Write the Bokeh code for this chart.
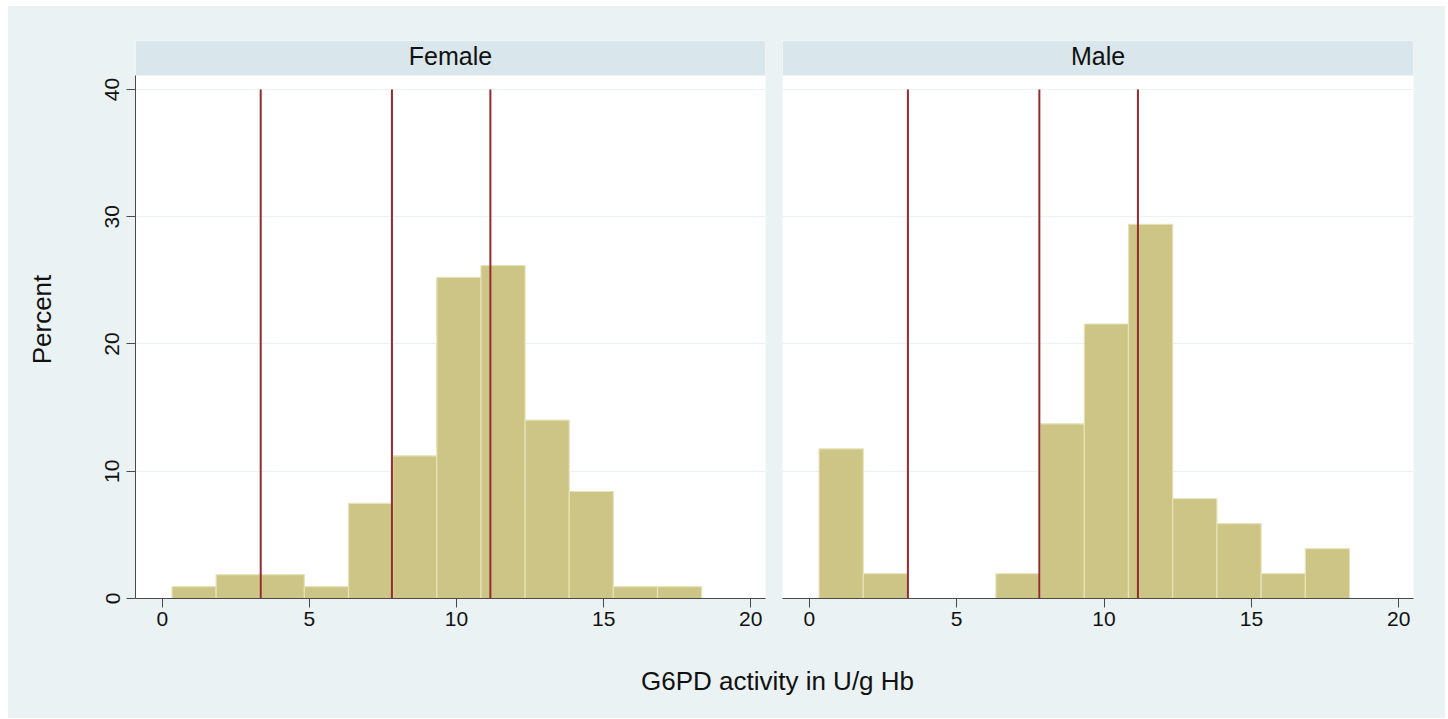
from bokeh.plotting import figure
from bokeh.layouts import row, column
from bokeh.models import ColumnDataSource, FixedTicker, BoxAnnotation, Label, Range1d, Spacer
from bokeh.embed import file_html
from bokeh.resources import INLINE

# ---- data ----
panels = ["Female", "Male"]
bin_edges = [0.33, 1.83, 3.33, 4.83, 6.33, 7.83, 9.33, 10.83, 12.33, 13.83, 15.33, 16.83, 18.33]
female_pct = [0.93, 1.87, 1.87, 0.93, 7.48, 11.21, 25.23, 26.17, 14.02, 8.41, 0.93, 0.93]
male_pct = [11.76, 1.96, 0.0, 0.0, 1.96, 13.73, 21.57, 29.41, 7.84, 5.88, 1.96, 3.92]
ref_lines = [3.345, 7.805, 11.15]
x_ticks = [0, 5, 10, 15, 20]
y_ticks = [0, 10, 20, 30, 40]
x_label = "G6PD activity in U/g Hb"
y_label = "Percent"

# ---- style ----
BG = "#EAF2F3"
HEADER = "#D9E6EB"
BAR_FILL = "#CCC586"
BAR_LINE = "#E6E2B9"
RED = "#952B2E"
AXIS = "#4A4A4A"
FONT = "Liberation Sans"

X_RANGE = (-0.91, 20.5)
Y_TOP = 43.85
PLOT_TOP = 41.1


def make_panel(title, pct, show_y, frame_w, bl, br):
    p = figure(frame_width=frame_w, frame_height=558, output_backend="svg",
               toolbar_location=None, x_range=Range1d(*X_RANGE),
               y_range=Range1d(0, Y_TOP),
               min_border_left=bl, min_border_right=br,
               min_border_top=34, min_border_bottom=47)
    p.background_fill_color = "white"
    p.border_fill_color = BG
    p.outline_line_color = None

    p.xgrid.visible = False
    p.ygrid.ticker = FixedTicker(ticks=y_ticks[1:])
    p.ygrid.grid_line_color = BG
    p.ygrid.grid_line_width = 1.2

    lefts = [bin_edges[i] for i in range(len(pct)) if pct[i] > 0]
    rights = [bin_edges[i + 1] for i in range(len(pct)) if pct[i] > 0]
    tops = [v for v in pct if v > 0]
    src = ColumnDataSource(dict(left=lefts, right=rights, top=tops, bottom=[0] * len(tops)))
    p.quad(left="left", right="right", top="top", bottom="bottom", source=src,
           fill_color=BAR_FILL, line_color=BAR_LINE, line_width=1.2)

    p.segment(x0=ref_lines, x1=ref_lines, y0=[0] * len(ref_lines), y1=[40] * len(ref_lines),
              line_color=RED, line_width=2)

    hdr = BoxAnnotation(bottom=PLOT_TOP, top=Y_TOP, fill_color=HEADER, fill_alpha=1.0,
                        line_color=None, level="overlay")
    p.add_layout(hdr)
    p.add_layout(Label(x=frame_w / 2, y=543, x_units="screen", y_units="screen",
                       text=title, text_align="center", text_baseline="middle",
                       text_font=FONT, text_font_size="25px", text_color="#111111",
                       level="overlay"))

    ax = p.xaxis[0]
    ax.ticker = FixedTicker(ticks=x_ticks)
    ax.axis_line_color = AXIS
    ax.major_tick_line_color = AXIS
    ax.major_tick_out = 9
    ax.major_tick_in = 0
    ax.minor_tick_line_color = None
    ax.major_label_text_font = FONT
    ax.major_label_text_font_size = "21px"
    ax.major_label_text_color = "#111111"
    ax.major_label_standoff = 4

    ay = p.yaxis[0]
    if show_y:
        ay.ticker = FixedTicker(ticks=y_ticks)
        ay.bounds = (0, PLOT_TOP)
        ay.axis_line_color = AXIS
        ay.major_tick_line_color = AXIS
        ay.major_tick_out = 9
        ay.major_tick_in = 0
        ay.minor_tick_line_color = None
        ay.major_label_text_font = FONT
        ay.major_label_text_font_size = "21px"
        ay.major_label_text_color = "#111111"
        ay.major_label_orientation = "vertical"
        ay.major_label_standoff = 7
        ay.axis_label = y_label
        ay.axis_label_text_font = FONT
        ay.axis_label_text_font_size = "26px"
        ay.axis_label_text_font_style = "normal"
        ay.axis_label_text_color = "#111111"
        ay.axis_label_standoff = 46
    else:
        ay.visible = False
    return p


pf = make_panel(panels[0], female_pct, True, 630, 127, 8)
pm = make_panel(panels[1], male_pct, False, 631, 9, 32)

pb = figure(width=1437, height=73, output_backend="svg", toolbar_location=None,
            x_range=(0, 1), y_range=(0, 1), min_border=0)
pb.axis.visible = False
pb.grid.visible = False
pb.outline_line_color = None
pb.background_fill_color = BG
pb.border_fill_color = BG
pb.add_layout(Label(x=769, y=38, x_units="screen", y_units="screen", text=x_label,
                    text_align="center", text_baseline="middle", text_font=FONT,
                    text_font_size="26px", text_color="#111111"))

inner = column(row(pf, pm, styles={"background-color": BG}), pb,
               styles={"background-color": BG})
layout = column(Spacer(height=6), row(Spacer(width=8), inner))
open("out.html", "w").write(file_html(layout, INLINE))
